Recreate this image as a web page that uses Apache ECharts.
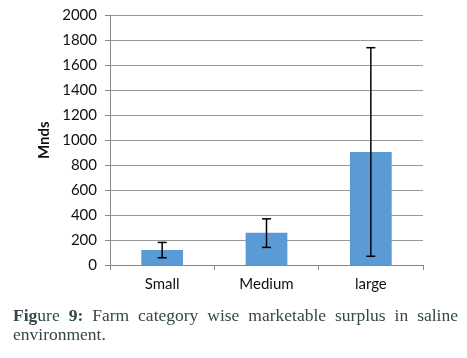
<!DOCTYPE html>
<html><head><meta charset="utf-8">
<script src="https://cdn.jsdelivr.net/npm/echarts@6/dist/echarts.min.js"></script>
<style>
html,body{margin:0;padding:0;background:#fff;}
#c{width:467px;height:358px;position:absolute;left:0;top:0;}
#cap{position:absolute;left:13px;top:306px;width:445px;font-family:"Liberation Serif",serif;font-size:17.5px;line-height:19px;color:#34474a;text-align:justify;text-align-last:left;}
</style></head>
<body>
<div id="c"></div>
<div id="cap"><b>Fig</b>ure <b>9:</b> Farm category wise marketable surplus in saline environment.</div>
<script>
const categories = ["Small", "Medium", "large"];
const values = [120, 258, 905];
const errLow = [58, 141, 70];
const errHigh = [181, 370, 1742];
const yTicks = [0, 200, 400, 600, 800, 1000, 1200, 1400, 1600, 1800, 2000];

const chart = echarts.init(document.getElementById('c'));
const errData = categories.map((c, i) => [i, errLow[i], errHigh[i]]);
chart.setOption({
  animation: false,
  grid: {left: 110, right: 44, top: 15.5, bottom: 93},
  xAxis: {
    type: 'category', data: categories,
    axisLine: {lineStyle: {color: '#888', width: 1}},
    axisTick: {show: true, alignWithLabel: false, length: 5, lineStyle: {color: '#888'}},
    axisLabel: {color: '#111', fontFamily: 'Lato', fontSize: 15, margin: 12}
  },
  yAxis: {
    type: 'value', min: yTicks[0], max: yTicks[yTicks.length - 1], interval: 200,
    name: 'Mnds', nameLocation: 'middle', nameGap: 53, nameRotate: 90,
    nameTextStyle: {fontFamily: 'Lato', fontWeight: 'bold', fontSize: 15, color: '#111'},
    axisLine: {show: true, lineStyle: {color: '#888'}},
    axisTick: {show: true, length: 5, lineStyle: {color: '#888'}},
    splitLine: {lineStyle: {color: '#999', width: 1}},
    axisLabel: {color: '#111', fontFamily: 'Lato', fontSize: 15, margin: 13,
      formatter: function (v) { return String(v); }}
  },
  series: [
    {type: 'bar', data: values, barWidth: '40%', itemStyle: {color: '#5B9BD5'}},
    {
      type: 'custom', data: errData, z: 10,
      renderItem: function (params, api) {
        const x = api.value(0);
        const lo = api.coord([x, api.value(1)]);
        const hi = api.coord([x, api.value(2)]);
        const hw = 4.5;
        const st = {stroke: '#000', lineWidth: 1.5};
        return {type: 'group', children: [
          {type: 'line', shape: {x1: lo[0], y1: lo[1], x2: hi[0], y2: hi[1]}, style: st},
          {type: 'line', shape: {x1: lo[0] - hw, y1: lo[1], x2: lo[0] + hw, y2: lo[1]}, style: st},
          {type: 'line', shape: {x1: hi[0] - hw, y1: hi[1], x2: hi[0] + hw, y2: hi[1]}, style: st}
        ]};
      }
    }
  ]
});
</script>
</body></html>
